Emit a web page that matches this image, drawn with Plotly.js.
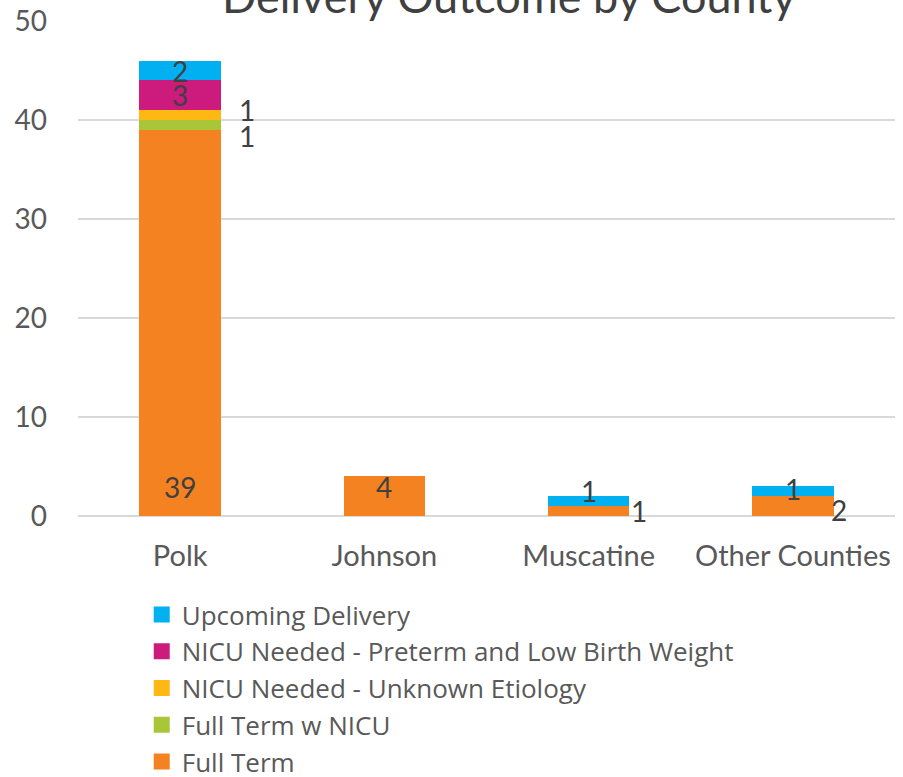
<!DOCTYPE html>
<html>
<head>
<meta charset="utf-8">
<script src="https://cdn.plot.ly/plotly-3.0.1.min.js"></script>
<style>html,body{margin:0;padding:0;background:#fff;}#chart{width:903px;height:777px;}</style>
</head>
<body>
<div id="chart"></div>
<script>
const categories = ["Polk", "Johnson", "Muscatine", "Other Counties"];
const fullTerm = [39, 4, 1, 2];
const fullTermNicu = [1, 0, 0, 0];
const nicuUnknown = [1, 0, 0, 0];
const nicuPreterm = [3, 0, 0, 0];
const upcoming = [2, 0, 1, 1];
const seriesNames = ["Full Term", "Full Term w NICU", "NICU Needed - Unknown Etiology", "NICU Needed - Preterm and Low Birth Weight", "Upcoming Delivery"];
const seriesColors = ["#F58220", "#A9C638", "#FDB813", "#CC1A7D", "#00B0F0"];
const seriesValues = [fullTerm, fullTermNicu, nicuUnknown, nicuPreterm, upcoming];

// label style per series & category: 'base', 'center', 'right'
const labelModes = [
  ["base", "base", "right", "right"],
  ["right", "right", "right", "right"],
  ["right", "right", "right", "right"],
  ["center", "center", "center", "center"],
  ["center", "center", "center", "center"]
];
const labelNudge = [
  [0, 0, 0, -4],
  [-11, 0, 0, 0],
  [5, 0, 0, 0],
  [0, 0, 0, 0],
  [0, 0, 10, 2]
];

const fontFam = "Lato, 'Open Sans', sans-serif";
const txtColor = "#595959";

const traces = seriesNames.map((n, i) => ({
  type: "bar",
  name: n,
  x: categories,
  y: seriesValues[i],
  marker: {color: seriesColors[i], line: {width: 0}},
  showlegend: false,
  hoverinfo: "none"
}));
// legend entries with larger square swatches
seriesNames.forEach((n, i) => {
  traces.push({
    type: "scatter", mode: "markers", name: n,
    x: [null], y: [null],
    marker: {symbol: "square", size: 18, color: seriesColors[i]},
    showlegend: true, hoverinfo: "none"
  });
});

const annotations = [];
const cum = categories.map(() => 0);
seriesValues.forEach((vals, s) => {
  vals.forEach((v, c) => {
    const base = cum[c];
    cum[c] += v;
    if (!v) return;
    const mode = labelModes[s][c];
    let a = {x: categories[c], xref: "x", yref: "y", text: String(v), showarrow: false,
      font: {family: fontFam, size: 28, color: "#404040"}, yanchor: "middle"};
    if (mode === "base") {
      a.y = base; a.yshift = 29;
    } else if (mode === "center") {
      a.y = base + v / 2; a.yshift = labelNudge[s][c];
    } else {
      a.y = base + v / 2; a.yshift = labelNudge[s][c];
      a.xshift = c === 0 ? 67 : (c === 2 ? 50 : 46);
    }
    annotations.push(a);
  });
});

// chart title (partly cut off at the top edge, as in the reference)
annotations.push({
  text: "Delivery Outcome by County", xref: "paper", yref: "paper", x: 0.528, y: 1,
  xanchor: "center", yanchor: "middle", yshift: 25, showarrow: false,
  font: {family: fontFam, size: 45, color: "#404040"}
});

const layout = {
  width: 903, height: 777,
  margin: {l: 78, r: 8, t: 21, b: 261},
  paper_bgcolor: "#fff", plot_bgcolor: "#fff",
  barmode: "stack",
  bargap: 0.6,
  xaxis: {type: "category", showgrid: false, showline: false, ticks: "", fixedrange: true,
    tickfont: {family: fontFam, size: 29, color: txtColor}, ticklabelstandoff: 20},
  yaxis: {range: [0, 50], dtick: 10, showgrid: true, gridcolor: "#D9D9D9", gridwidth: 2,
    zeroline: true, zerolinecolor: "#D9D9D9", zerolinewidth: 2, showline: false, ticks: "",
    tickfont: {family: fontFam, size: 28, color: txtColor}, ticklabelstandoff: 30},
  showlegend: true,
  legend: {orientation: "v", x: 0.078, xanchor: "left", xref: "paper",
    y: 0.2394, yanchor: "top", yref: "container",
    font: {family: "'Open Sans', Lato, sans-serif", size: 26, color: txtColor}, itemwidth: 30, bgcolor: "rgba(0,0,0,0)"},
  annotations: annotations
};

Plotly.newPlot("chart", traces, layout, {staticPlot: true, displayModeBar: false});
</script>
</body>
</html>
